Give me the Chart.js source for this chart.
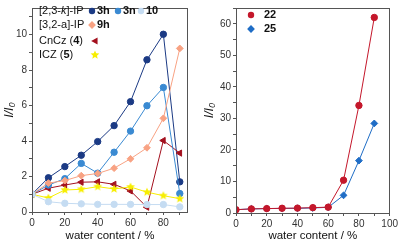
<!DOCTYPE html>
<html><head><meta charset="utf-8">
<script src="https://cdn.jsdelivr.net/npm/chart.js@4"></script>
<style>
html,body{margin:0;padding:0;background:#fff;}
#wrap{position:relative;width:400px;height:243px;overflow:hidden;}
#c1{position:absolute;left:0;top:0;}
#c2{position:absolute;left:200px;top:0;}
</style></head><body>
<div id="wrap"><canvas id="c1" width="200" height="243"></canvas><canvas id="c2" width="200" height="243"></canvas></div>
<script>
// ---- data ----
const waterContent = [0, 10, 20, 30, 40, 50, 60, 70, 80, 90];
const s3h   = [1.0, 1.93, 2.56, 3.20, 3.97, 4.87, 6.22, 8.58, 10.02, 1.70];
const s3n   = [1.0, 1.52, 1.88, 2.74, 2.19, 3.37, 4.56, 5.99, 7.02, 1.04];
const s10   = [1.0, 0.58, 0.49, 0.46, 0.43, 0.43, 0.43, 0.42, 0.42, 0.29];
const s9h   = [1.0, 1.63, 1.77, 2.05, 2.17, 2.47, 3.00, 3.62, 5.28, 9.22];
const sCnCz = [1.0, 1.34, 1.52, 1.68, 1.70, 1.56, 1.19, 0.27, 4.03, 3.32];
const sICZ  = [1.0, 0.79, 1.24, 1.28, 1.43, 1.30, 1.41, 1.12, 0.92, 0.75];
const s22   = [1.05, 1.3, 1.4, 1.5, 1.55, 1.7, 1.85, 10.4, 34.1, 62.0];
const s25   = [1.05, 1.3, 1.4, 1.45, 1.5, 1.6, 1.8, 5.6, 16.6, 28.4];
const leftXTicks  = [0, 10, 20, 30, 40, 50, 60, 70, 80, 90];
const leftXLabels = [0, 20, 40, 60, 80];
const leftYTicks  = [0, 1, 2, 3, 4, 5, 6, 7, 8, 9, 10, 11];
const leftYLabels = [0, 2, 4, 6, 8, 10];
const rightXTicks  = [0, 10, 20, 30, 40, 50, 60, 70, 80, 90, 100];
const rightXLabels = [0, 20, 40, 60, 80, 100];
const rightYTicks  = [0, 5, 10, 15, 20, 25, 30, 35, 40, 45, 50, 55, 60, 65];
const rightYLabels = [0, 10, 20, 30, 40, 50, 60];
const xTitle = 'water content / %';
const yTitle = 'I/I\u2080';

// ---- styles ----
const C3h = '#1b3a84', C3n = '#3a8ad2', C10 = '#c5dcf2', C9h = '#f8a283',
      CCn = '#a3101e', CICZ = '#f7ee00', C22 = '#c4172b', C25 = '#1f6dc6';
const FONT = '"Liberation Sans", Arial, sans-serif';

function starCanvas(color, r) {
  const s = Math.ceil(r * 2 + 2);
  const cv = document.createElement('canvas');
  cv.width = s; cv.height = s;
  const g = cv.getContext('2d');
  g.fillStyle = color;
  g.beginPath();
  for (let i = 0; i < 10; i++) {
    const a = -Math.PI / 2 + i * Math.PI / 5;
    const rr = i % 2 === 0 ? r : r * 0.45;
    g.lineTo(s / 2 + rr * Math.cos(a), s / 2 + rr * Math.sin(a));
  }
  g.closePath(); g.fill();
  return cv;
}
const star = starCanvas(CICZ, 4.6);

function pts(arr) { return waterContent.map((x, i) => ({x: x, y: arr[i]})); }
function ds(label, arr, color, style, extra) {
  return Object.assign({
    label: label, data: pts(arr), borderColor: color, backgroundColor: color,
    borderWidth: 1, pointStyle: style, pointRadius: 3.2, pointBorderWidth: 1,
    pointBorderColor: color, pointBackgroundColor: color, tension: 0
  }, extra || {});
}

const frame = {
  id: 'frame',
  afterDraw(chart) {
    const a = chart.chartArea, g = chart.ctx;
    g.save(); g.strokeStyle = '#555'; g.lineWidth = 1;
    g.strokeRect(Math.round(a.left) + 0.5, Math.round(a.top) + 0.5,
      Math.round(a.right - a.left) - 1, Math.round(a.bottom - a.top));
    g.restore();
  }
};

function drawSegs(g, x, y, segs) {
  for (const s of segs) {
    g.font = (s.i ? 'italic ' : '') + (s.b ? 'bold ' : '') + '11px ' + FONT;
    g.fillText(s.t, x, y);
    x += g.measureText(s.t).width;
  }
  return x;
}
function marker(g, kind, color, x, y, r) {
  g.save(); g.fillStyle = color; g.beginPath();
  if (kind === 'circle') { g.arc(x, y, r, 0, Math.PI * 2); }
  else if (kind === 'diamond') { g.moveTo(x, y - r * 1.3); g.lineTo(x + r * 1.3, y); g.lineTo(x, y + r * 1.3); g.lineTo(x - r * 1.3, y); }
  else if (kind === 'tri') { g.moveTo(x - r * 1.2, y); g.lineTo(x + r * 0.8, y - r * 1.1); g.lineTo(x + r * 0.8, y + r * 1.1); }
  g.closePath(); g.fill(); g.restore();
  if (kind === 'star') g.drawImage(star, x - star.width / 2, y - star.height / 2);
}

const legendLeft = {
  id: 'legendLeft',
  afterDraw(chart) {
    const g = chart.ctx, L = chart.chartArea.left;
    g.save(); g.fillStyle = '#111'; g.textBaseline = 'middle'; g.textAlign = 'left';
    drawSegs(g, L + 7, 11, [{t: '[2,3-'}, {t: 'k', i: true}, {t: ']-IP'}]);
    marker(g, 'circle', C3h, L + 60, 11, 3.2); drawSegs(g, L + 65, 11, [{t: '3h', b: true}]);
    marker(g, 'circle', C3n, L + 86, 11, 3.2); drawSegs(g, L + 91, 11, [{t: '3n', b: true}]);
    marker(g, 'circle', C10, L + 109, 11, 3.2); drawSegs(g, L + 114, 11, [{t: '10', b: true}]);
    drawSegs(g, L + 7, 25, [{t: '[3,2-a]-IP'}]);
    marker(g, 'diamond', C9h, L + 60, 25, 3); drawSegs(g, L + 65, 25, [{t: '9h', b: true}]);
    drawSegs(g, L + 7, 41, [{t: 'CnCz ('}, {t: '4', b: true}, {t: ')'}]);
    marker(g, 'tri', CCn, L + 63, 41, 3.2);
    drawSegs(g, L + 7, 55, [{t: 'ICZ ('}, {t: '5', b: true}, {t: ')'}]);
    marker(g, 'star', CICZ, L + 63, 55, 3);
    g.restore();
  }
};
const legendRight = {
  id: 'legendRight',
  afterDraw(chart) {
    const g = chart.ctx, L = chart.chartArea.left;
    g.save(); g.fillStyle = '#111'; g.textBaseline = 'middle'; g.textAlign = 'left';
    marker(g, 'circle', C22, L + 15, 15, 3.2); drawSegs(g, L + 28, 15, [{t: '22', b: true}]);
    marker(g, 'diamond', C25, L + 15, 29, 3); drawSegs(g, L + 28, 29, [{t: '25', b: true}]);
    g.restore();
  }
};

function axes(xT, xL, xMax, yT, yL, yMax, yW, xH) {
  const tickFont = {family: FONT, size: 10};
  const grid = {display: true, drawOnChartArea: false, drawTicks: true, tickLength: 3, color: '#555', tickColor: '#555'};
  return {
    x: {
      type: 'linear', min: 0, max: xMax,
      afterBuildTicks: s => { s.ticks = xT.map(v => ({value: v})); },
      afterFit: s => { s.height = xH; },
      ticks: {autoSkip: false, maxRotation: 0, padding: 2, color: '#333', font: tickFont,
        callback: v => xL.includes(v) ? String(v) : ''},
      grid: grid, border: {display: false},
      title: {display: true, text: xTitle, color: '#111', font: {family: FONT, size: 11.5}, padding: {top: 0, bottom: 0}}
    },
    y: {
      type: 'linear', min: 0, max: yMax,
      afterBuildTicks: s => { s.ticks = yT.map(v => ({value: v})); },
      afterFit: s => { s.width = yW; },
      ticks: {autoSkip: false, padding: 2, color: '#333', font: tickFont,
        callback: v => yL.includes(v) ? String(v) : ''},
      grid: grid, border: {display: false},
      title: {display: true, text: yTitle, color: '#111', font: {family: FONT, size: 12.5, style: 'italic'}, padding: {top: 2, bottom: 0}}
    }
  };
}

const common = {
  responsive: false, animation: false, devicePixelRatio: 1,
  plugins: {legend: {display: false}, tooltip: {enabled: false}},
};

new Chart(document.getElementById('c1'), {
  type: 'line',
  data: {datasets: [
    ds('10', s10, C10, 'circle'),
    ds('ICZ (5)', sICZ, CICZ, star),
    ds('9h', s9h, C9h, 'rectRot', {pointRadius: 3.4}),
    ds('3n', s3n, C3n, 'circle'),
    ds('CnCz (4)', sCnCz, CCn, 'triangle', {pointRotation: -90, pointRadius: 3.6}),
    ds('3h', s3h, C3h, 'circle')
  ]},
  options: Object.assign({}, common, {
    layout: {padding: {left: 0, right: 12, top: 1, bottom: 0}},
    scales: axes(leftXTicks, leftXLabels, 95, leftYTicks, leftYLabels, 11.5, 32, 31)
  }),
  plugins: [frame, legendLeft]
});

new Chart(document.getElementById('c2'), {
  type: 'line',
  data: {datasets: [
    ds('22', s22, C22, 'circle'),
    ds('25', s25, C25, 'rectRot', {pointRadius: 3.4})
  ]},
  options: Object.assign({}, common, {
    layout: {padding: {left: 0, right: 8, top: 1, bottom: 0}},
    scales: axes(rightXTicks, rightXLabels, 100, rightYTicks, rightYLabels, 65, 36, 30)
  }),
  plugins: [frame, legendRight]
});
</script>
</body></html>
